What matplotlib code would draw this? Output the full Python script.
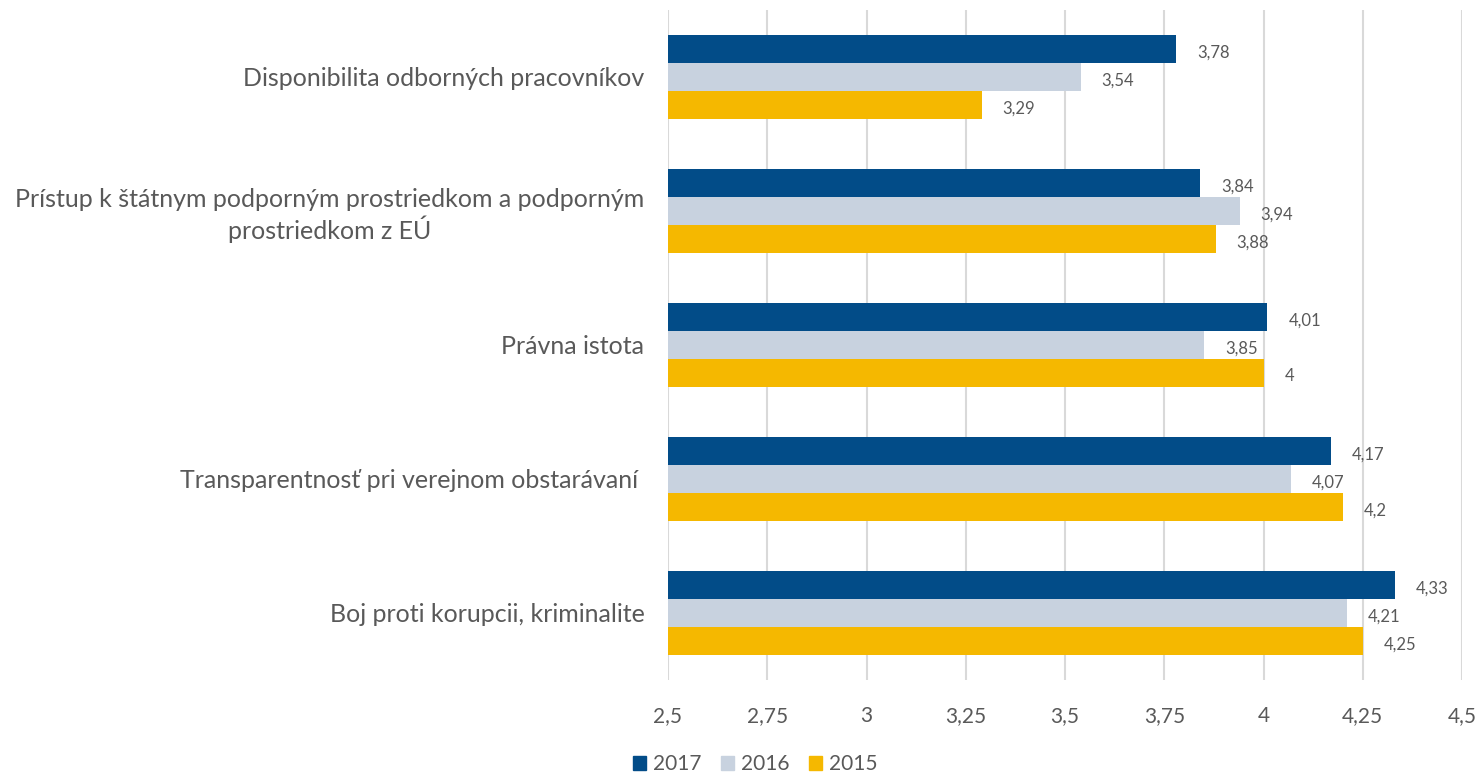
import matplotlib
matplotlib.use("Agg")
import matplotlib.pyplot as plt
import numpy as np
from matplotlib.patches import Patch

categories = [
    "Disponibilita odborných pracovníkov",
    "Prístup k štátnym podporným prostriedkom a podporným\nprostriedkom z EÚ",
    "Právna istota",
    "Transparentnosť pri verejnom obstarávaní ",
    "Boj proti korupcii, kriminalite",
]
series_names = ["2017", "2016", "2015"]
values_2017 = [3.78, 3.84, 4.01, 4.17, 4.33]
values_2016 = [3.54, 3.94, 3.85, 4.07, 4.21]
values_2015 = [3.29, 3.88, 4.00, 4.20, 4.25]
xticks = [2.5, 2.75, 3, 3.25, 3.5, 3.75, 4, 4.25, 4.5]
colors = ["#024C88", "#C8D2DF", "#F5B800"]

def fmt(v):
    s = ("%.2f" % v).rstrip("0").rstrip(".")
    return s.replace(".", ",")

plt.rcParams['font.family'] = ['Lato', 'DejaVu Sans']
text_color = "#595959"

fig = plt.figure(figsize=(14.81, 7.75), dpi=100)
ax = fig.add_axes([668/1481, 1-680/775, (1462-668)/1481, 670/775])

base = 2.5
bar_h = 28/134
y = np.arange(len(categories))
series = [values_2017, values_2016, values_2015]
for i, (vals, col) in enumerate(zip(series, colors)):
    pos = y + (i - 1) * bar_h
    vals = np.array(vals)
    ax.barh(pos, vals - base, left=base, height=bar_h, color=col, zorder=3)
    for p, v in zip(pos, vals):
        ax.annotate(fmt(v), (v, p), xytext=(15, -2.5), textcoords="offset points",
                    va="center", ha="left", fontsize=12, color=text_color)

ax.set_xlim(2.5, 4.5)
ax.set_ylim(len(categories) - 0.5, -0.5)
ax.set_xticks(xticks)
ax.set_xticklabels([fmt(t) for t in xticks], fontsize=15, color=text_color)
ax.set_yticks(y)
ax.set_yticklabels(categories, fontsize=18, color=text_color,
                   multialignment="center")
ax.tick_params(axis="both", length=0)
ax.tick_params(axis="x", pad=19)
ax.tick_params(axis="y", pad=17)
ax.grid(axis="x", color="#D9D9D9", linewidth=1.5, zorder=0)
for s in ax.spines.values():
    s.set_visible(False)

handles = [Patch(color=c, label=n) for c, n in zip(colors, series_names)]
leg = fig.legend(handles=handles, loc="center", bbox_to_anchor=(755/1481, 1-764/775),
                 ncol=3, frameon=False, fontsize=15, handlelength=0.65, handleheight=0.65,
                 handletextpad=0.3, columnspacing=0.95)
for t in leg.get_texts():
    t.set_color(text_color)

fig.savefig("out.png", dpi=100)
